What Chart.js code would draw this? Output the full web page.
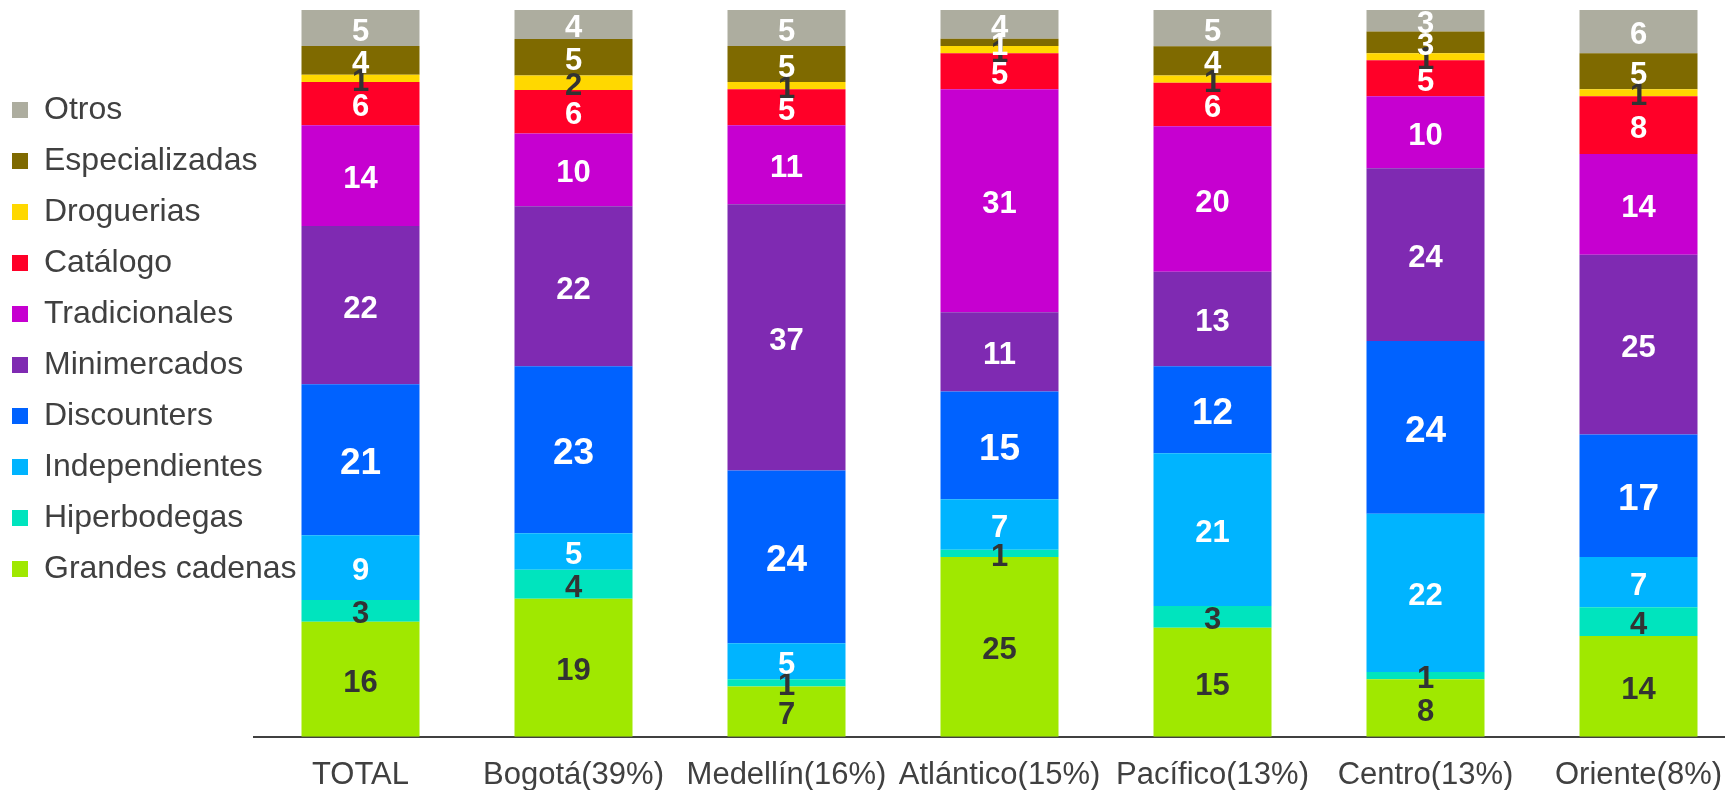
<!DOCTYPE html>
<html>
<head>
<meta charset="utf-8">
<script src="https://cdn.jsdelivr.net/npm/chart.js@4/dist/chart.umd.min.js"></script>
<style>
  html, body { margin: 0; padding: 0; background: #ffffff; overflow: hidden; }
  #wrap { width: 1745px; height: 790px; }
</style>
</head>
<body>
<div id="wrap"><canvas id="graphCanales" width="1745" height="790"></canvas></div>
<script>
// categorias (regiones) y participacion por canal, de abajo hacia arriba
const categories = ['TOTAL', 'Bogotá(39%)', 'Medellín(16%)', 'Atlántico(15%)', 'Pacífico(13%)', 'Centro(13%)', 'Oriente(8%)'];

const grandesCadenas = [16, 19, 7, 25, 15, 8, 14];
const hiperbodegas   = [3, 4, 1, 1, 3, 1, 4];
const independientes = [9, 5, 5, 7, 21, 22, 7];
const discounters    = [21, 23, 24, 15, 12, 24, 17];
const minimercados   = [22, 22, 37, 11, 13, 24, 25];
const tradicionales  = [14, 10, 11, 31, 20, 10, 14];
const catalogo       = [6, 6, 5, 5, 6, 5, 8];
const droguerias     = [1, 2, 1, 1, 1, 1, 1];
const especializadas = [4, 5, 5, 1, 4, 3, 5];
const otros          = [5, 4, 5, 4, 5, 3, 6];

const seriesNames  = ['Grandes cadenas', 'Hiperbodegas', 'Independientes', 'Discounters', 'Minimercados',
                      'Tradicionales', 'Catálogo', 'Droguerias', 'Especializadas', 'Otros'];
const seriesValues = [grandesCadenas, hiperbodegas, independientes, discounters, minimercados,
                      tradicionales, catalogo, droguerias, especializadas, otros];
const seriesColors = ['#a0e800', '#00e4be', '#00b4ff', '#0062ff', '#7f2ab2',
                      '#c600d0', '#ff0028', '#ffd800', '#7f6a00', '#adad9f'];
const darkLabels   = ['Grandes cadenas', 'Hiperbodegas', 'Droguerias'];

Chart.defaults.font.family = "'Liberation Sans', Arial, sans-serif";
Chart.defaults.color = '#404040';

// total por columna, para que cada barra llegue al 100%
const totals = categories.map((c, i) => seriesValues.reduce((s, arr) => s + arr[i], 0));

const datasets = seriesNames.map((name, k) => ({
    label: name,
    data: seriesValues[k].map((v, i) => v / totals[i] * 100),
    raw: seriesValues[k],
    backgroundColor: seriesColors[k],
    borderWidth: 0,
    categoryPercentage: 1,
    barPercentage: 0.554
}));

// etiquetas dentro de cada segmento
const segmentLabels = {
    id: 'segmentLabels',
    afterDatasetsDraw(chart) {
        const ctx = chart.ctx;
        ctx.save();
        ctx.textAlign = 'center';
        ctx.textBaseline = 'middle';
        chart.data.datasets.forEach((ds, k) => {
            const meta = chart.getDatasetMeta(k);
            const big = ds.label === 'Discounters';
            ctx.font = 'bold ' + (big ? 37 : 31) + "px 'Liberation Sans', Arial, sans-serif";
            ctx.fillStyle = darkLabels.includes(ds.label) ? '#333333' : '#ffffff';
            meta.data.forEach((bar, i) => {
                const p = bar.getProps(['x', 'y', 'base'], true);
                ctx.fillText(String(ds.raw[i]), p.x, (p.y + p.base) / 2 + 4);
            });
        });
        ctx.restore();
    }
};

// la leyenda se solapa con el area del grafico: ampliar su zona de recorte
const wideLegend = {
    id: 'wideLegend',
    afterLayout(chart) {
        const lg = chart.legend;
        if (!lg) return;
        lg.width = 330;
        lg.right = lg.left + 330;
    }
};

new Chart(document.getElementById('graphCanales').getContext('2d'), {
    type: 'bar',
    data: { labels: categories, datasets: datasets },
    plugins: [segmentLabels, wideLegend],
    options: {
        responsive: false,
        animation: false,
        layout: { padding: { top: 10, left: -7, right: 0, bottom: -24 } },
        plugins: {
            tooltip: { enabled: false },
            legend: {
                position: 'left',
                align: 'start',
                reverse: true,
                maxWidth: 261,
                title: { display: true, text: '', font: { size: 10, lineHeight: 1 }, padding: { top: 55, bottom: 0 } },
                labels: {
                    boxWidth: 16,
                    boxHeight: 16,
                    padding: 19,
                    color: '#404040',
                    font: { size: 32 }
                }
            }
        },
        scales: {
            x: {
                stacked: true,
                grid: { display: false, drawTicks: false },
                border: { display: true, color: '#404040', width: 2 },
                ticks: {
                    autoSkip: false,
                    maxRotation: 0,
                    padding: 20,
                    color: '#404040',
                    font: { size: 31 }
                }
            },
            y: {
                stacked: true,
                display: false,
                min: 0,
                max: 100
            }
        }
    }
});
</script>
</body>
</html>
